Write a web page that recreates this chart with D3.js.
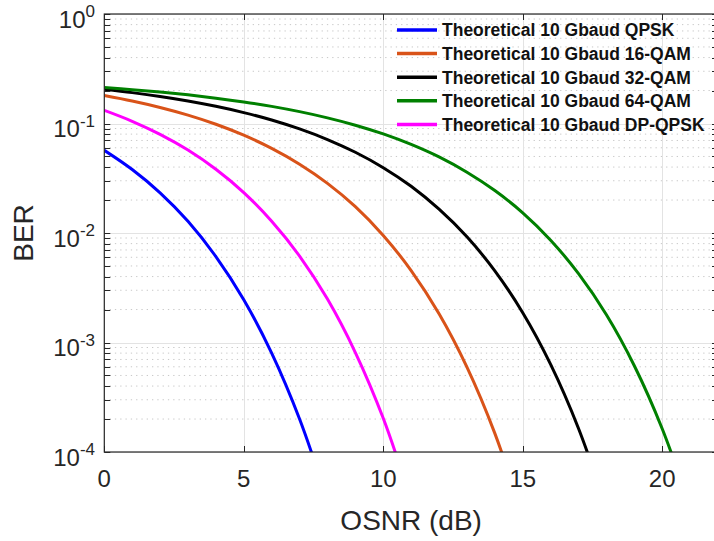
<!DOCTYPE html>
<html>
<head>
<meta charset="utf-8">
<script src="https://cdn.jsdelivr.net/npm/d3@7"></script>
<style>
  html, body { margin: 0; padding: 0; background: #fff; }
  svg { display: block; font-family: "Liberation Sans", Arial, Helvetica, sans-serif; }
</style>
</head>
<body>
<svg id="chart" width="714" height="541"></svg>
<script>
// ---- data ----
const osnrQPSK   = [0, 1, 2, 3, 4, 5, 6, 7, 8];
const berQPSK    = [0.0569, 0.0380, 0.0233, 0.0128, 0.0061, 0.00246, 0.00080, 0.000200, 0.000036];

const osnr16QAM  = [0, 1, 2, 3, 4, 5, 6, 7, 8, 9, 10, 11, 12, 13, 14, 15];
const ber16QAM   = [0.1799, 0.1603, 0.1400, 0.1192, 0.0984, 0.0782, 0.0593, 0.0425, 0.0284, 0.0174, 0.0095, 0.00454, 0.00183, 0.000596, 0.000148, 0.000026];

const osnr32QAM  = [0, 1, 2, 3, 4, 5, 6, 7, 8, 9, 10, 11, 12, 13, 14, 15, 16, 17, 18];
const ber32QAM   = [0.2052, 0.1914, 0.1765, 0.1605, 0.1435, 0.1258, 0.1076, 0.0892, 0.0714, 0.0546, 0.0395, 0.0267, 0.0165, 0.00923, 0.00451, 0.00187, 0.000631, 0.000164, 0.0000308];

const osnr64QAM  = [0, 1, 2, 3, 4, 5, 6, 7, 8, 9, 10, 11, 12, 13, 14, 15, 16, 17, 18, 19, 20, 21];
const ber64QAM   = [0.2129, 0.2038, 0.1937, 0.1826, 0.1704, 0.1573, 0.1433, 0.1283, 0.1126, 0.0965, 0.0803, 0.0644, 0.0495, 0.0359, 0.0244, 0.0153, 0.0086, 0.00425, 0.00179, 0.000613, 0.000163, 0.0000315];

const osnrDPQPSK = [0, 1, 2, 3, 4, 5, 6, 7, 8, 9, 10, 11];
const berDPQPSK  = [0.1318, 0.1048, 0.0796, 0.0572, 0.0382, 0.0234, 0.0128, 0.00616, 0.00249, 0.00081, 0.000203, 0.000036];

const seriesNames  = ["Theoretical 10 Gbaud QPSK", "Theoretical 10 Gbaud 16-QAM", "Theoretical 10 Gbaud 32-QAM", "Theoretical 10 Gbaud 64-QAM", "Theoretical 10 Gbaud DP-QPSK"];
const seriesColors = ["#0000ff", "#d95319", "#000000", "#008000", "#ff00ff"];
const seriesX = [osnrQPSK, osnr16QAM, osnr32QAM, osnr64QAM, osnrDPQPSK];
const seriesY = [berQPSK, ber16QAM, ber32QAM, ber64QAM, berDPQPSK];

const xTicks = [0, 5, 10, 15, 20];
const yTickExps = [0, -1, -2, -3, -4];
const xLabel = "OSNR (dB)";
const yLabel = "BER";

// ---- layout ----
const L = 104.3, T = 14, B = 452, R = 718;
const svg = d3.select("#chart");
const x = d3.scaleLinear().domain([0, 22]).range([L, R]);
const y = d3.scaleLog().domain([1e-4, 1]).range([B, T]);
const axisColor = "#262626";

// minor y values
const minorY = [];
for (let e = -4; e < 0; e++) for (let m = 2; m <= 9; m++) minorY.push(m * Math.pow(10, e));
const majorY = yTickExps.map(e => Math.pow(10, e));

// grid
const grid = svg.append("g");
grid.selectAll("line.minor").data(minorY).join("line")
  .attr("x1", L).attr("x2", R).attr("y1", d => y(d)).attr("y2", d => y(d))
  .attr("stroke", "#c8c8c8").attr("stroke-width", 1).attr("stroke-dasharray", "1.3,4");
grid.selectAll("line.majy").data(majorY).join("line")
  .attr("x1", L).attr("x2", R).attr("y1", d => Math.round(y(d)) + 0.5).attr("y2", d => Math.round(y(d)) + 0.5)
  .attr("stroke", "#e3e3e3").attr("stroke-width", 1);
grid.selectAll("line.majx").data(xTicks).join("line")
  .attr("y1", T).attr("y2", B).attr("x1", d => Math.round(x(d)) + 0.5).attr("x2", d => Math.round(x(d)) + 0.5)
  .attr("stroke", "#e3e3e3").attr("stroke-width", 1);

// curves
svg.append("clipPath").attr("id", "clip").append("rect")
  .attr("x", L).attr("y", T).attr("width", R - L).attr("height", B - T);
const line = d3.line().x(d => x(d[0])).y(d => y(d[1])).curve(d3.curveCatmullRom.alpha(0.5));
const curves = svg.append("g").attr("clip-path", "url(#clip)");
seriesX.forEach((xs, i) => {
  const pts = xs.map((v, j) => [v, seriesY[i][j]]);
  curves.append("path").datum(pts).attr("d", line)
    .attr("fill", "none").attr("stroke", seriesColors[i]).attr("stroke-width", 3)
    .attr("stroke-linejoin", "round");
});

// axes box
const ax = svg.append("g");
const tl = 6;
ax.append("rect").attr("x", L).attr("y", T).attr("width", R - L).attr("height", B - T)
  .attr("fill", "none").attr("stroke", axisColor).attr("stroke-width", 1.2);
// x ticks (bottom & top, inward)
xTicks.forEach(t => {
  const px = Math.round(x(t)) + 0.5;
  ax.append("line").attr("x1", px).attr("x2", px).attr("y1", B).attr("y2", B - tl).attr("stroke", axisColor);
  ax.append("line").attr("x1", px).attr("x2", px).attr("y1", T).attr("y2", T + tl).attr("stroke", axisColor);
  ax.append("text").attr("x", x(t)).attr("y", 487).attr("text-anchor", "middle")
    .attr("font-size", 24).attr("fill", axisColor).text(d3.format("d")(t));
});
// y ticks (left & right, inward), major + minor
majorY.concat(minorY).forEach(v => {
  const py = Math.round(y(v)) + 0.5;
  ax.append("line").attr("x1", L).attr("x2", L + tl).attr("y1", py).attr("y2", py).attr("stroke", axisColor);
  ax.append("line").attr("x1", R).attr("x2", R - tl).attr("y1", py).attr("y2", py).attr("stroke", axisColor);
});
yTickExps.forEach(e => {
  const py = y(Math.pow(10, e));
  const tx = ax.append("text").attr("x", 95).attr("y", py + 13.5).attr("text-anchor", "end")
    .attr("fill", axisColor);
  tx.append("tspan").attr("font-size", 24).text("10");
  tx.append("tspan").attr("font-size", 17).attr("dy", -10.5).text(e === 0 ? "0" : "-" + Math.abs(e));
});

// axis labels
svg.append("text").attr("x", (L + R) / 2).attr("y", 530).attr("text-anchor", "middle")
  .attr("font-size", 28).attr("fill", axisColor).text(xLabel);
svg.append("text").attr("transform", `translate(33,${(T + B) / 2}) rotate(-90)`).attr("text-anchor", "middle")
  .attr("font-size", 28).attr("fill", axisColor).text(yLabel);

// legend
const lg = svg.append("g");
seriesNames.forEach((name, i) => {
  const cy = 30 + i * 23.6;
  lg.append("line").attr("x1", 397).attr("x2", 437).attr("y1", cy).attr("y2", cy)
    .attr("stroke", seriesColors[i]).attr("stroke-width", 3.5);
  lg.append("text").attr("x", 442).attr("y", cy + 6.3).attr("font-size", 17.5)
    .attr("font-weight", "bold").attr("fill", "#111").text(name);
});
</script>
</body>
</html>
